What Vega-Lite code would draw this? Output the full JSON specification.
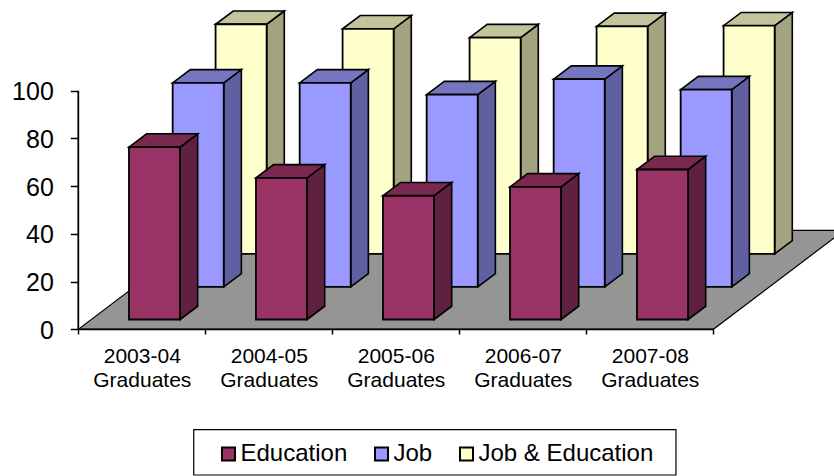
{"$schema":"https://vega.github.io/schema/vega-lite/v6.json","width":834,"height":476,"padding":0,"autosize":{"type":"fit","contains":"padding"},"background":"white","config":{"view":{"stroke":null},"font":"Liberation Sans"},
"datasets":{
"floor":[{"x":0,"y":0,"y2":0},{"x":1.031,"y":0,"y2":41.5},{"x":5,"y":0,"y2":41.5},{"x":6.031,"y":41.5,"y2":41.5}],
"box":[{"x":0.909,"x2":4.706,"y":-42.05,"y2":-61.1}],
"yaxis":[{"x":0,"y":0,"y2":100}],
"xaxis":[{"x":0,"x2":5,"y":0}],
"bars":[
{"period":"2003-04","s":"Education","l":0.399,"r":0.801,"b":4.1,"t":76.4},
{"period":"2004-05","s":"Education","l":1.399,"r":1.801,"b":4.1,"t":63.5},
{"period":"2005-06","s":"Education","l":2.399,"r":2.801,"b":4.1,"t":56},
{"period":"2006-07","s":"Education","l":3.399,"r":3.801,"b":4.1,"t":59.7},
{"period":"2007-08","s":"Education","l":4.399,"r":4.801,"b":4.1,"t":67},
{"period":"2003-04","s":"Job","l":0.743,"r":1.145,"b":17.8,"t":103.3},
{"period":"2004-05","s":"Job","l":1.743,"r":2.145,"b":17.8,"t":103.3},
{"period":"2005-06","s":"Job","l":2.743,"r":3.145,"b":17.8,"t":98.4},
{"period":"2006-07","s":"Job","l":3.743,"r":4.145,"b":17.8,"t":104.9},
{"period":"2007-08","s":"Job","l":4.743,"r":5.145,"b":17.8,"t":100.5},
{"period":"2003-04","s":"Job & Education","l":1.081,"r":1.483,"b":31.6,"t":127.9},
{"period":"2004-05","s":"Job & Education","l":2.081,"r":2.483,"b":31.6,"t":126},
{"period":"2005-06","s":"Job & Education","l":3.081,"r":3.483,"b":31.6,"t":122.3},
{"period":"2006-07","s":"Job & Education","l":4.081,"r":4.483,"b":31.6,"t":127},
{"period":"2007-08","s":"Job & Education","l":5.081,"r":5.483,"b":31.6,"t":127.3}
],
"sides":[
{"s":"E","f":0,"x":0.801,"y":4.1,"y2":76.4},{"s":"E","f":0,"x":0.94,"y":9.66,"y2":81.96},
{"s":"E","f":1,"x":1.801,"y":4.1,"y2":63.5},{"s":"E","f":1,"x":1.94,"y":9.66,"y2":69.06},
{"s":"E","f":2,"x":2.801,"y":4.1,"y2":56},{"s":"E","f":2,"x":2.94,"y":9.66,"y2":61.56},
{"s":"E","f":3,"x":3.801,"y":4.1,"y2":59.7},{"s":"E","f":3,"x":3.94,"y":9.66,"y2":65.26},
{"s":"E","f":4,"x":4.801,"y":4.1,"y2":67},{"s":"E","f":4,"x":4.94,"y":9.66,"y2":72.56},
{"s":"J","f":0,"x":1.145,"y":17.8,"y2":103.3},{"s":"J","f":0,"x":1.284,"y":23.36,"y2":108.86},
{"s":"J","f":1,"x":2.145,"y":17.8,"y2":103.3},{"s":"J","f":1,"x":2.284,"y":23.36,"y2":108.86},
{"s":"J","f":2,"x":3.145,"y":17.8,"y2":98.4},{"s":"J","f":2,"x":3.284,"y":23.36,"y2":103.96},
{"s":"J","f":3,"x":4.145,"y":17.8,"y2":104.9},{"s":"J","f":3,"x":4.284,"y":23.36,"y2":110.46},
{"s":"J","f":4,"x":5.145,"y":17.8,"y2":100.5},{"s":"J","f":4,"x":5.284,"y":23.36,"y2":106.06},
{"s":"Y","f":0,"x":1.483,"y":31.6,"y2":127.9},{"s":"Y","f":0,"x":1.622,"y":37.16,"y2":133.46},
{"s":"Y","f":1,"x":2.483,"y":31.6,"y2":126},{"s":"Y","f":1,"x":2.622,"y":37.16,"y2":131.56},
{"s":"Y","f":2,"x":3.483,"y":31.6,"y2":122.3},{"s":"Y","f":2,"x":3.622,"y":37.16,"y2":127.86},
{"s":"Y","f":3,"x":4.483,"y":31.6,"y2":127},{"s":"Y","f":3,"x":4.622,"y":37.16,"y2":132.56},
{"s":"Y","f":4,"x":5.483,"y":31.6,"y2":127.3},{"s":"Y","f":4,"x":5.622,"y":37.16,"y2":132.86}
],
"tops":[
{"s":"E","f":0,"x":0.399,"y":76.4,"y2":76.4},{"s":"E","f":0,"x":0.538,"y":76.4,"y2":81.96},{"s":"E","f":0,"x":0.801,"y":76.4,"y2":81.96},{"s":"E","f":0,"x":0.94,"y":81.96,"y2":81.96},
{"s":"E","f":1,"x":1.399,"y":63.5,"y2":63.5},{"s":"E","f":1,"x":1.538,"y":63.5,"y2":69.06},{"s":"E","f":1,"x":1.801,"y":63.5,"y2":69.06},{"s":"E","f":1,"x":1.94,"y":69.06,"y2":69.06},
{"s":"E","f":2,"x":2.399,"y":56,"y2":56},{"s":"E","f":2,"x":2.538,"y":56,"y2":61.56},{"s":"E","f":2,"x":2.801,"y":56,"y2":61.56},{"s":"E","f":2,"x":2.94,"y":61.56,"y2":61.56},
{"s":"E","f":3,"x":3.399,"y":59.7,"y2":59.7},{"s":"E","f":3,"x":3.538,"y":59.7,"y2":65.26},{"s":"E","f":3,"x":3.801,"y":59.7,"y2":65.26},{"s":"E","f":3,"x":3.94,"y":65.26,"y2":65.26},
{"s":"E","f":4,"x":4.399,"y":67,"y2":67},{"s":"E","f":4,"x":4.538,"y":67,"y2":72.56},{"s":"E","f":4,"x":4.801,"y":67,"y2":72.56},{"s":"E","f":4,"x":4.94,"y":72.56,"y2":72.56},
{"s":"J","f":0,"x":0.743,"y":103.3,"y2":103.3},{"s":"J","f":0,"x":0.882,"y":103.3,"y2":108.86},{"s":"J","f":0,"x":1.145,"y":103.3,"y2":108.86},{"s":"J","f":0,"x":1.284,"y":108.86,"y2":108.86},
{"s":"J","f":1,"x":1.743,"y":103.3,"y2":103.3},{"s":"J","f":1,"x":1.882,"y":103.3,"y2":108.86},{"s":"J","f":1,"x":2.145,"y":103.3,"y2":108.86},{"s":"J","f":1,"x":2.284,"y":108.86,"y2":108.86},
{"s":"J","f":2,"x":2.743,"y":98.4,"y2":98.4},{"s":"J","f":2,"x":2.882,"y":98.4,"y2":103.96},{"s":"J","f":2,"x":3.145,"y":98.4,"y2":103.96},{"s":"J","f":2,"x":3.284,"y":103.96,"y2":103.96},
{"s":"J","f":3,"x":3.743,"y":104.9,"y2":104.9},{"s":"J","f":3,"x":3.882,"y":104.9,"y2":110.46},{"s":"J","f":3,"x":4.145,"y":104.9,"y2":110.46},{"s":"J","f":3,"x":4.284,"y":110.46,"y2":110.46},
{"s":"J","f":4,"x":4.743,"y":100.5,"y2":100.5},{"s":"J","f":4,"x":4.882,"y":100.5,"y2":106.06},{"s":"J","f":4,"x":5.145,"y":100.5,"y2":106.06},{"s":"J","f":4,"x":5.284,"y":106.06,"y2":106.06},
{"s":"Y","f":0,"x":1.081,"y":127.9,"y2":127.9},{"s":"Y","f":0,"x":1.22,"y":127.9,"y2":133.46},{"s":"Y","f":0,"x":1.483,"y":127.9,"y2":133.46},{"s":"Y","f":0,"x":1.622,"y":133.46,"y2":133.46},
{"s":"Y","f":1,"x":2.081,"y":126,"y2":126},{"s":"Y","f":1,"x":2.22,"y":126,"y2":131.56},{"s":"Y","f":1,"x":2.483,"y":126,"y2":131.56},{"s":"Y","f":1,"x":2.622,"y":131.56,"y2":131.56},
{"s":"Y","f":2,"x":3.081,"y":122.3,"y2":122.3},{"s":"Y","f":2,"x":3.22,"y":122.3,"y2":127.86},{"s":"Y","f":2,"x":3.483,"y":122.3,"y2":127.86},{"s":"Y","f":2,"x":3.622,"y":127.86,"y2":127.86},
{"s":"Y","f":3,"x":4.081,"y":127,"y2":127},{"s":"Y","f":3,"x":4.22,"y":127,"y2":132.56},{"s":"Y","f":3,"x":4.483,"y":127,"y2":132.56},{"s":"Y","f":3,"x":4.622,"y":132.56,"y2":132.56},
{"s":"Y","f":4,"x":5.081,"y":127.3,"y2":127.3},{"s":"Y","f":4,"x":5.22,"y":127.3,"y2":132.86},{"s":"Y","f":4,"x":5.483,"y":127.3,"y2":132.86},{"s":"Y","f":4,"x":5.622,"y":132.86,"y2":132.86}
]},
"layer":[
{"data":{"name":"floor"},"mark":{"type":"area","color":"#959595","stroke":"black","strokeWidth":1.2,"clip":true},"encoding":{
"x":{"field":"x","type":"quantitative","title":null,"scale":{"domain":[-0.6165,5.9504],"nice":false,"zero":false},
"axis":{"title":null,"grid":false,"domain":false,"orient":"bottom","offset":-146,"values":[0,0.5,1,1.5,2,2.5,3,3.5,4,4.5,5],"tickColor":"black","tickWidth":1.5,"tickSize":5,"tickOpacity":{"condition":{"test":"datum.value % 1 != 0","value":0},"value":1},"labelExpr":"datum.value % 1 == 0 ? '' : [['2003-04','Graduates'],['2004-05','Graduates'],['2005-06','Graduates'],['2006-07','Graduates'],['2007-08','Graduates']][floor(datum.value)]","labelFont":"Liberation Sans","labelFontSize":21,"labelColor":"black","labelLineHeight":24,"labelPadding":11.5,"labelOverlap":false,"labelBound":false,"labelFlush":false}},
"y":{"field":"y","type":"quantitative","title":null,"scale":{"domain":[-61.1,138.07],"nice":false,"zero":false},
"axis":{"title":null,"grid":false,"domain":false,"offset":-78.3,"values":[0,20,40,60,80,100],"tickColor":"black","tickWidth":1.5,"tickSize":8,"labelFont":"Liberation Sans","labelFontSize":25,"labelColor":"black","labelPadding":17,"labelOffset":1,"labelOverlap":false,"labelBound":false,"labelFlush":false}},
"y2":{"field":"y2"}}},
{"data":{"name":"yaxis"},"mark":{"type":"rule","color":"black","strokeWidth":1.8},"encoding":{"x":{"field":"x","type":"quantitative","title":null},"y":{"field":"y","type":"quantitative","title":null},"y2":{"field":"y2"}}},
{"data":{"name":"xaxis"},"mark":{"type":"rule","color":"black","strokeWidth":1.8},"encoding":{"x":{"field":"x","type":"quantitative","title":null},"x2":{"field":"x2"},"y":{"field":"y","type":"quantitative","title":null}}},
{"data":{"name":"sides"},"transform":[{"filter":"datum.s=='Y'"}],"mark":{"type":"area","color":"#a3a380","stroke":"black","strokeWidth":1.6},"encoding":{"x":{"field":"x","type":"quantitative","title":null},"y":{"field":"y","type":"quantitative","title":null},"y2":{"field":"y2"},"detail":{"field":"f"}}},
{"data":{"name":"tops"},"transform":[{"filter":"datum.s=='Y'"}],"mark":{"type":"area","color":"#c4c49c","stroke":"black","strokeWidth":1.6},"encoding":{"x":{"field":"x","type":"quantitative","title":null},"y":{"field":"y","type":"quantitative","title":null},"y2":{"field":"y2"},"detail":{"field":"f"}}},
{"data":{"name":"bars"},"transform":[{"filter":"datum.s=='Job & Education'"}],"mark":{"type":"rect","stroke":"black","strokeWidth":1.8},"encoding":{"x":{"field":"l","type":"quantitative","title":null},"x2":{"field":"r"},"y":{"field":"b","type":"quantitative","title":null},"y2":{"field":"t"},
"color":{"field":"s","type":"nominal","title":null,"scale":{"domain":["Education","Job","Job & Education"],"range":["#993366","#9999ff","#ffffcc"]},"legend":{"orient":"none","legendX":216.5,"legendY":442,"direction":"horizontal","title":null,"symbolType":"square","symbolSize":170,"symbolOpacity":1,"symbolStrokeColor":"black","symbolStrokeWidth":2,"labelFont":"Liberation Sans","labelFontSize":24,"labelColor":"black","labelOffset":0,"labelLimit":300,"columnPadding":22,"padding":0}}}},
{"data":{"name":"sides"},"transform":[{"filter":"datum.s=='J'"}],"mark":{"type":"area","color":"#6060a0","stroke":"black","strokeWidth":1.6},"encoding":{"x":{"field":"x","type":"quantitative","title":null},"y":{"field":"y","type":"quantitative","title":null},"y2":{"field":"y2"},"detail":{"field":"f"}}},
{"data":{"name":"tops"},"transform":[{"filter":"datum.s=='J'"}],"mark":{"type":"area","color":"#7575c0","stroke":"black","strokeWidth":1.6},"encoding":{"x":{"field":"x","type":"quantitative","title":null},"y":{"field":"y","type":"quantitative","title":null},"y2":{"field":"y2"},"detail":{"field":"f"}}},
{"data":{"name":"bars"},"transform":[{"filter":"datum.s=='Job'"}],"mark":{"type":"rect","stroke":"black","strokeWidth":1.8},"encoding":{"x":{"field":"l","type":"quantitative","title":null},"x2":{"field":"r"},"y":{"field":"b","type":"quantitative","title":null},"y2":{"field":"t"},
"color":{"field":"s","type":"nominal","title":null}}},
{"data":{"name":"sides"},"transform":[{"filter":"datum.s=='E'"}],"mark":{"type":"area","color":"#60203f","stroke":"black","strokeWidth":1.6},"encoding":{"x":{"field":"x","type":"quantitative","title":null},"y":{"field":"y","type":"quantitative","title":null},"y2":{"field":"y2"},"detail":{"field":"f"}}},
{"data":{"name":"tops"},"transform":[{"filter":"datum.s=='E'"}],"mark":{"type":"area","color":"#7a284f","stroke":"black","strokeWidth":1.6},"encoding":{"x":{"field":"x","type":"quantitative","title":null},"y":{"field":"y","type":"quantitative","title":null},"y2":{"field":"y2"},"detail":{"field":"f"}}},
{"data":{"name":"bars"},"transform":[{"filter":"datum.s=='Education'"}],"mark":{"type":"rect","stroke":"black","strokeWidth":1.8},"encoding":{"x":{"field":"l","type":"quantitative","title":null},"x2":{"field":"r"},"y":{"field":"b","type":"quantitative","title":null},"y2":{"field":"t"},
"color":{"field":"s","type":"nominal","title":null}}},
{"data":{"name":"box"},"mark":{"type":"rect","fill":"white","stroke":"black","strokeWidth":1.2},"encoding":{"x":{"field":"x","type":"quantitative","title":null},"x2":{"field":"x2"},"y":{"field":"y","type":"quantitative","title":null},"y2":{"field":"y2"}}}
]}
